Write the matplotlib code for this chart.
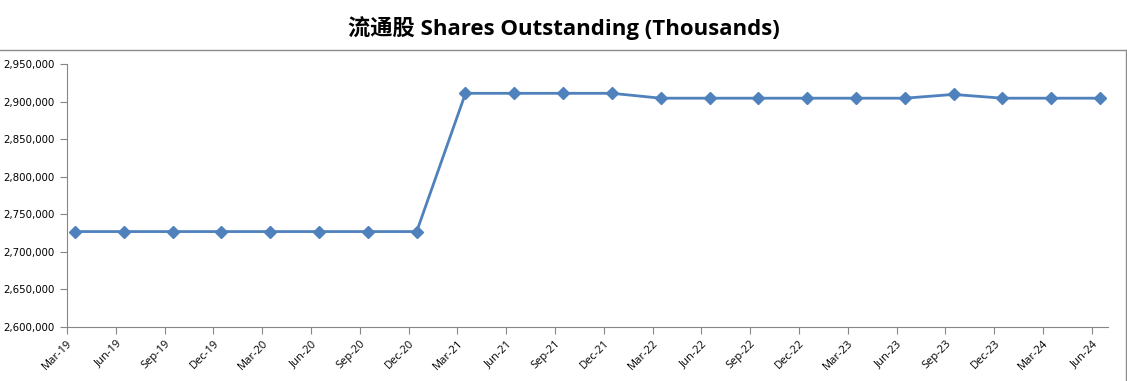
import numpy as np
import matplotlib
matplotlib.use("Agg")
import matplotlib.pyplot as plt
from matplotlib.lines import Line2D

quarters = ["Mar-19", "Jun-19", "Sep-19", "Dec-19", "Mar-20", "Jun-20", "Sep-20", "Dec-20",
            "Mar-21", "Jun-21", "Sep-21", "Dec-21", "Mar-22", "Jun-22", "Sep-22", "Dec-22",
            "Mar-23", "Jun-23", "Sep-23", "Dec-23", "Mar-24", "Jun-24"]
shares = [2727000, 2727000, 2727000, 2727000, 2727000, 2727000, 2727000, 2727000,
          2911000, 2911000, 2911000, 2911000, 2904500, 2904500, 2904500, 2904500,
          2904500, 2904500, 2909500, 2904500, 2904500, 2904500]

W, H = 1127, 381
fig = plt.figure(figsize=(W / 100, H / 100), dpi=100)
ax = fig.add_axes([67 / W, (H - 327) / H, (1108 - 67) / W, (327 - 64) / H])

ticks = np.arange(len(quarters))
x = ticks + 0.165  # points sit a bit right of each tick
ax.plot(x, shares, color="#4F81BD", lw=2.0, marker="D", ms=6,
        markeredgecolor="#4F81BD", markerfacecolor="#4F81BD", solid_joinstyle="round")

ax.set_xlim(0, len(quarters) - 1 + 0.33)
ax.set_ylim(2600000, 2950000)
ax.set_yticks(np.arange(2600000, 2950001, 50000))
ax.yaxis.set_major_formatter(matplotlib.ticker.FuncFormatter(lambda v, p: f"{int(v):,}"))
ax.set_xticks(ticks)
ax.set_xticklabels(quarters, rotation=45, ha="right", rotation_mode="anchor",
                   fontsize=8, family="Open Sans")
for lab in ax.get_yticklabels():
    lab.set_fontsize(7.4)
    lab.set_family("DejaVu Sans")

for s in ["top", "right"]:
    ax.spines[s].set_visible(False)
for s in ["left", "bottom"]:
    ax.spines[s].set_color("#868686")
ax.tick_params(axis="both", colors="#868686", length=5, width=0.8, labelcolor="black")
ax.tick_params(axis="y", pad=4)
ax.tick_params(axis="x", pad=3)

fig.text(0.5, (H - 28) / H, "流通股 Shares Outstanding (Thousands)", ha="center", va="center",
         fontsize=16, fontweight="bold", family=["Open Sans", "Noto Sans CJK SC"])

# chart-area border
fig.add_artist(Line2D([0, 1126 / W], [(H - 50) / H, (H - 50) / H], color="#8c8c8c", lw=1))
fig.add_artist(Line2D([1126 / W, 1126 / W], [0, (H - 50) / H], color="#8c8c8c", lw=1))

fig.savefig("out.png", dpi=100)
